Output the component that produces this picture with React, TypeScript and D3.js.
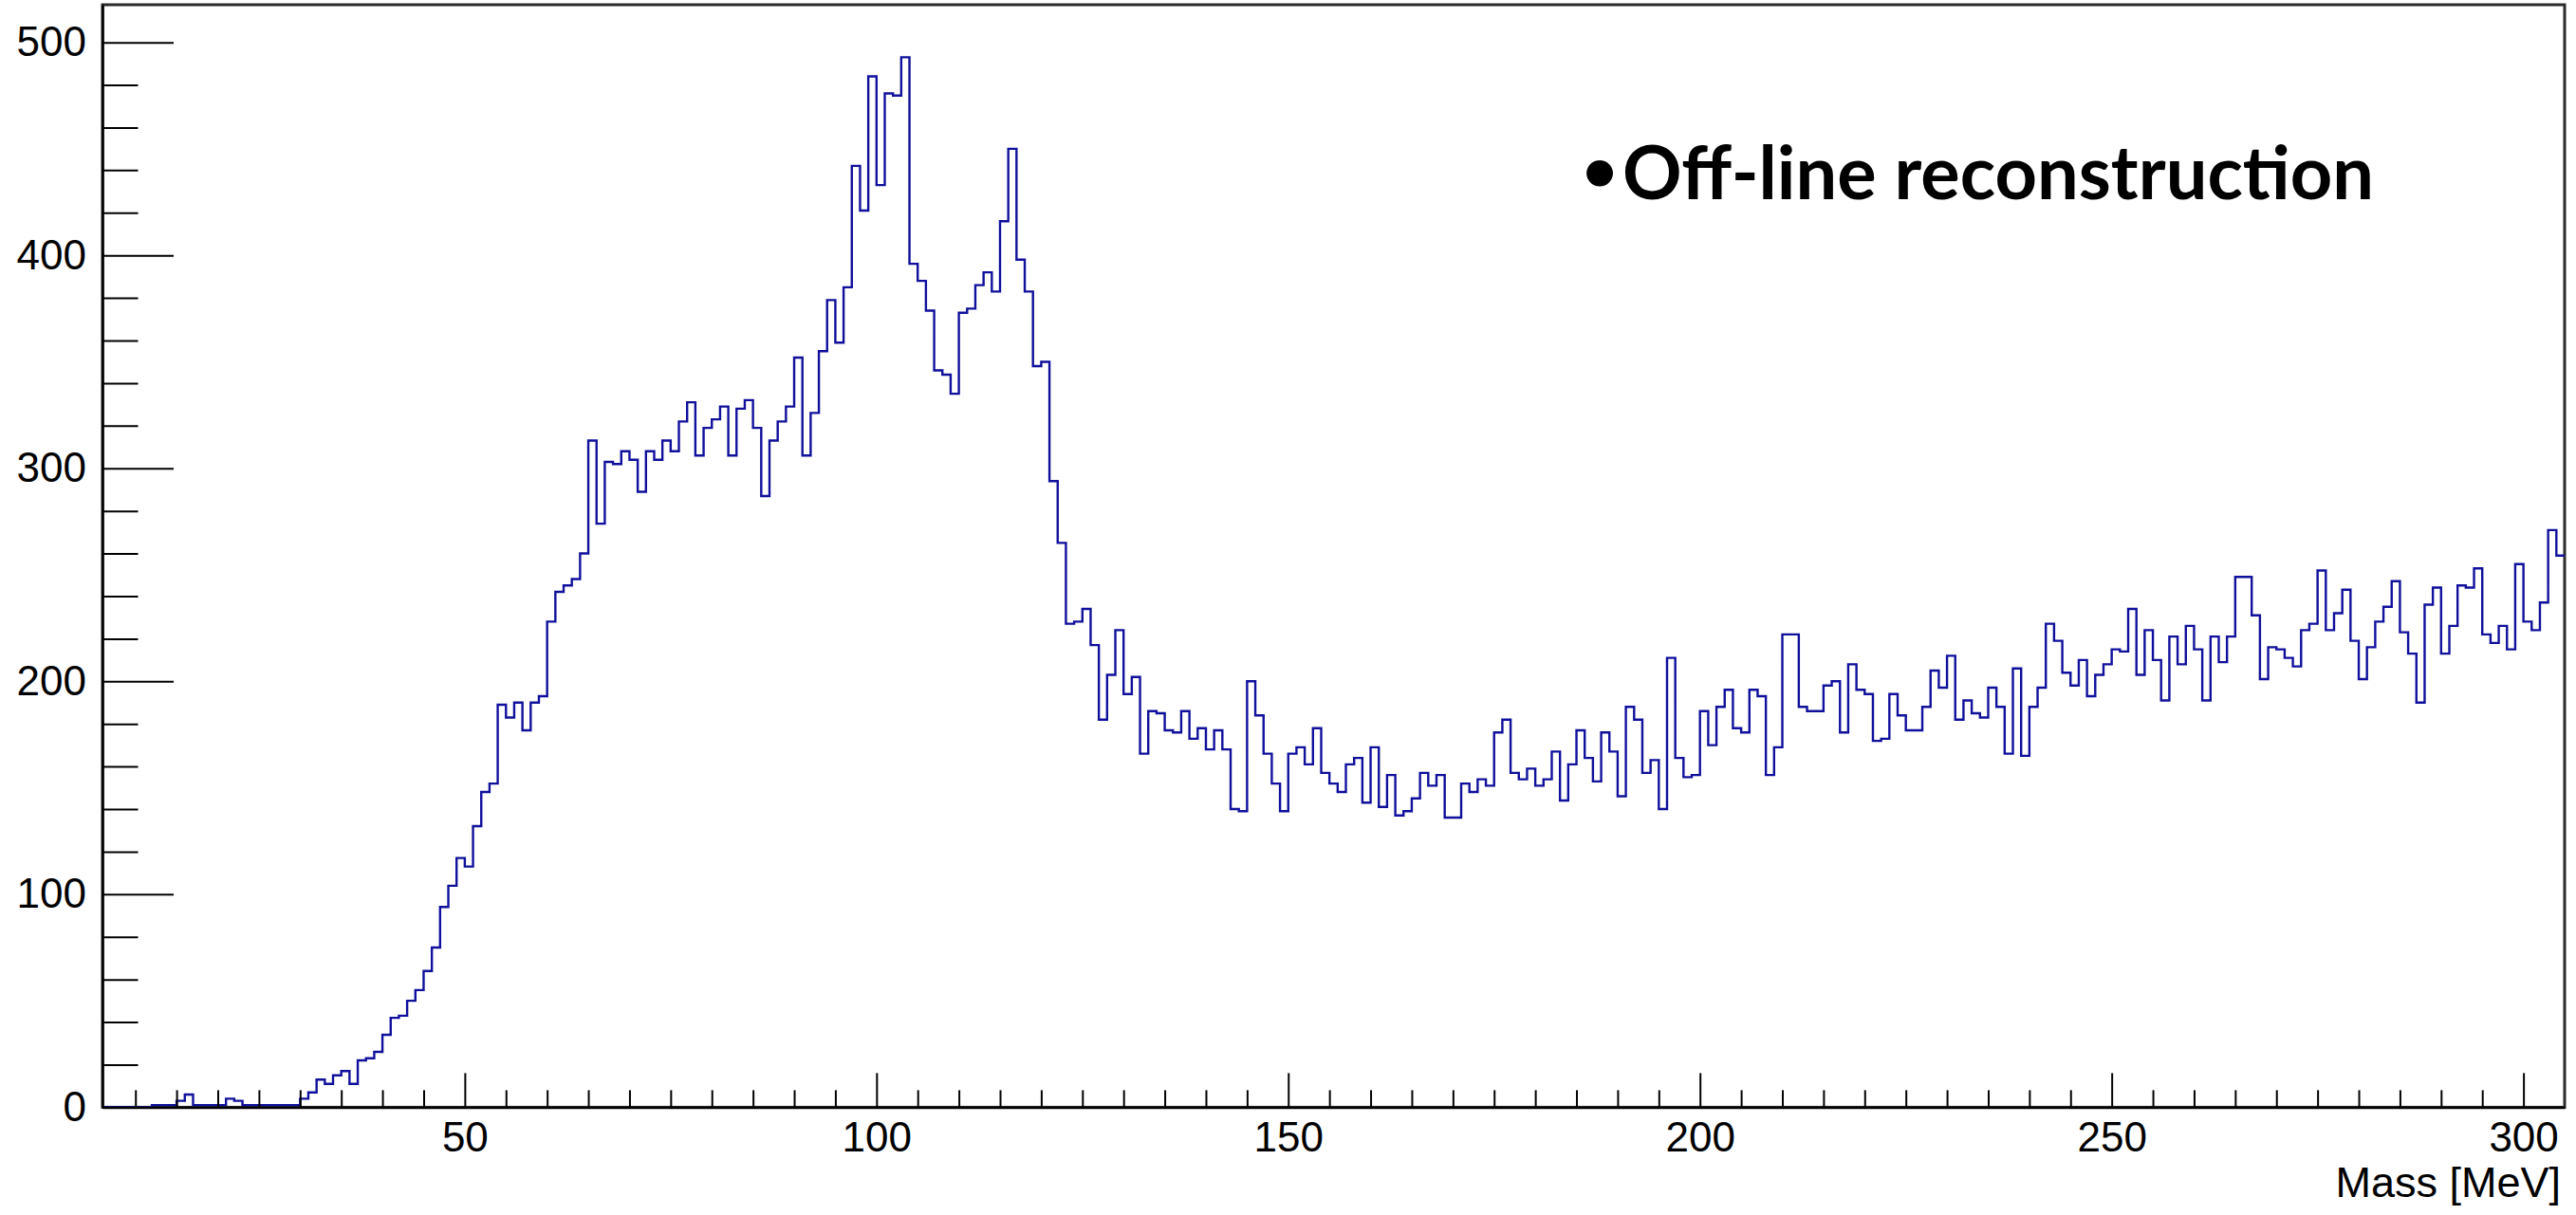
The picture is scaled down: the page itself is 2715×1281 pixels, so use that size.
import React, { useEffect, useRef } from "react";
import * as d3 from "d3";

// histogram binning (MeV)
const binLow = 6;
const binHigh = 305;
const binWidth = 1;

// counts per 1 MeV bin, from 6 MeV up to 305 MeV
const counts = [
  0, 0, 0, 0, 0, 0, 1, 1, 1, 3, // 6-15
  6, 1, 1, 1, 1, 4, 3, 1, 1, 1, // 16-25
  1, 1, 1, 1, 4, 7, 13, 11, 15, 17, // 26-35
  11, 22, 23, 26, 34, 42, 43, 50, 55, 64, // 36-45
  75, 94, 104, 117, 113, 132, 148, 152, 189, 183, // 46-55
  190, 177, 190, 193, 228, 242, 245, 248, 260, 313, // 56-65
  274, 303, 302, 308, 304, 289, 308, 304, 313, 308, // 66-75
  322, 331, 306, 319, 323, 329, 306, 328, 332, 319, // 76-85
  287, 313, 322, 329, 352, 306, 326, 355, 379, 359, // 86-95
  385, 442, 421, 484, 433, 476, 475, 493, 396, 388, // 96-105
  374, 346, 344, 335, 373, 375, 386, 392, 383, 416, // 106-115
  450, 398, 383, 348, 350, 294, 265, 227, 228, 234, // 116-125
  217, 182, 203, 224, 194, 202, 166, 186, 185, 177, // 126-135
  176, 186, 173, 178, 168, 177, 168, 140, 139, 200, // 136-145
  184, 166, 152, 139, 166, 169, 161, 178, 157, 152, // 146-155
  148, 161, 164, 143, 169, 141, 156, 137, 139, 145, // 156-165
  157, 151, 156, 136, 136, 152, 148, 154, 151, 176, // 166-175
  182, 157, 154, 159, 151, 154, 167, 144, 161, 177, // 176-185
  164, 153, 176, 167, 146, 188, 182, 157, 163, 140, // 186-195
  211, 164, 155, 156, 186, 170, 188, 196, 178, 176, // 196-205
  196, 193, 156, 169, 222, 222, 188, 186, 186, 198, // 206-215
  200, 176, 208, 196, 194, 172, 173, 194, 184, 177, // 216-225
  177, 188, 205, 197, 212, 182, 191, 185, 183, 197, // 226-235
  188, 166, 206, 165, 188, 197, 227, 219, 204, 198, // 236-245
  210, 193, 203, 208, 215, 214, 234, 203, 224, 210, // 246-255
  191, 221, 208, 226, 215, 191, 221, 209, 221, 249, // 256-265
  249, 231, 201, 216, 215, 211, 207, 224, 227, 252, // 266-275
  224, 232, 243, 219, 201, 216, 228, 235, 247, 223, // 276-285
  213, 190, 236, 244, 213, 226, 245, 244, 253, 222, // 286-295
  218, 226, 215, 255, 228, 224, 237, 271, 259, // 296-304
];

const xMajorTicks = [50, 100, 150, 200, 250, 300];
const yMajorTicks = [0, 100, 200, 300, 400, 500];
const xTitle = "Mass [MeV]";
const noteText = "Off-line reconstruction";

export default function App() {
  const ref = useRef(null);

  useEffect(() => {
    const svg = d3.select(ref.current);
    svg.selectAll("*").remove();

    const width = 2715;
    const height = 1281;
    const left = 108;
    const right = 2703;
    const top = 5;
    const bottom = 1167.4;

    const yMax = d3.max(counts) * 1.05; // ROOT style headroom

    const x = d3.scaleLinear().domain([binLow, binHigh]).range([left, right]);
    const y = d3.scaleLinear().domain([0, yMax]).range([bottom, top]);

    svg.append("rect").attr("width", width).attr("height", height).attr("fill", "#fff");

    // frame
    svg
      .append("rect")
      .attr("x", left)
      .attr("y", top)
      .attr("width", right - left)
      .attr("height", bottom - top)
      .attr("fill", "none")
      .attr("stroke", "#2b2b2b")
      .attr("stroke-width", 3);

    // histogram outline
    const pts = counts.map((c, i) => [binLow + i * binWidth, c]);
    pts.push([binHigh, counts[counts.length - 1]]);
    const line = d3
      .line()
      .x((d) => x(d[0]))
      .y((d) => y(d[1]))
      .curve(d3.curveStepAfter);

    svg
      .append("path")
      .attr("d", line(pts))
      .attr("fill", "none")
      .attr("stroke", "#10109c")
      .attr("stroke-width", 2.4);

    const font = "'Liberation Sans', Arial, Helvetica, sans-serif";

    // x axis
    const xMinor = d3.range(10, binHigh, 5).filter((v) => v % 50 !== 0);
    svg
      .append("g")
      .attr("transform", `translate(0,${bottom})`)
      .call(d3.axisBottom(x).tickValues(xMinor).tickSizeInner(-18).tickSizeOuter(0).tickFormat(() => ""))
      .call((g) => g.select(".domain").remove())
      .call((g) => g.selectAll(".tick line").attr("stroke", "#000").attr("stroke-width", 2));

    svg
      .append("g")
      .attr("transform", `translate(0,${bottom})`)
      .call(d3.axisBottom(x).tickValues(xMajorTicks).tickSizeInner(-36).tickSizeOuter(0).tickPadding(15))
      .call((g) => g.select(".domain").attr("stroke", "#000").attr("stroke-width", 2.5))
      .call((g) => g.selectAll(".tick line").attr("stroke", "#000").attr("stroke-width", 2))
      .call((g) =>
        g.selectAll(".tick text").attr("font-family", font).attr("font-size", 44).attr("fill", "#000")
      );

    // y axis
    const yMinor = d3.range(20, yMax, 20).filter((v) => v % 100 !== 0);
    svg
      .append("g")
      .attr("transform", `translate(${left},0)`)
      .call(d3.axisLeft(y).tickValues(yMinor).tickSizeInner(-37.5).tickSizeOuter(0).tickFormat(() => ""))
      .call((g) => g.select(".domain").remove())
      .call((g) => g.selectAll(".tick line").attr("stroke", "#000").attr("stroke-width", 2));

    svg
      .append("g")
      .attr("transform", `translate(${left},0)`)
      .call(d3.axisLeft(y).tickValues(yMajorTicks).tickSizeInner(-75).tickSizeOuter(0).tickPadding(17))
      .call((g) => g.select(".domain").attr("stroke", "#000").attr("stroke-width", 2.5))
      .call((g) => g.selectAll(".tick line").attr("stroke", "#000").attr("stroke-width", 2))
      .call((g) =>
        g.selectAll(".tick text").attr("font-family", font).attr("font-size", 44).attr("fill", "#000")
      );

    // axis title
    svg
      .append("text")
      .attr("x", 2699)
      .attr("y", 1262)
      .attr("text-anchor", "end")
      .attr("font-family", font)
      .attr("font-size", 45)
      .attr("fill", "#000")
      .text(xTitle);

    // annotation
    svg
      .append("text")
      .attr("x", 1686)
      .attr("y", 202)
      .attr("text-anchor", "middle")
      .attr("font-family", "Lato, 'Open Sans', sans-serif")
      .attr("font-weight", 700)
      .attr("font-size", 64)
      .attr("fill", "#000")
      .text("•");

    svg
      .append("text")
      .attr("x", 1710)
      .attr("y", 210)
      .attr("font-family", "Lato, 'Open Sans', sans-serif")
      .attr("font-weight", 700)
      .attr("font-size", 78)
      .attr("fill", "#000")
      .attr("textLength", 792)
      .attr("lengthAdjust", "spacingAndGlyphs")
      .text(noteText);
  }, []);

  return (
    <svg
      ref={ref}
      width={2715}
      height={1281}
      style={{ position: "absolute", left: 0, top: 0, display: "block" }}
    />
  );
}
